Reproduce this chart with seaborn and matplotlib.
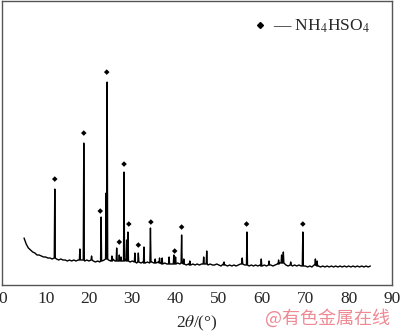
import numpy as np
import pandas as pd
import matplotlib
matplotlib.use('Agg')
import matplotlib.pyplot as plt
from matplotlib.lines import Line2D
import seaborn as sns

# --- DATA (intensity in arbitrary units) ---
# background of the pattern, one point every 0.5 degree from 5 to 85
base_theta = [5.0 + 0.5 * i for i in range(161)]
base_level = [
    47, 41, 37, 35, 33, 32, 30, 30, 29, 28, 28, 27, 27, 26, 27, 26, 25, 26, 25, 25,
    24, 25, 24, 25, 24, 25, 26, 25, 24, 25, 24, 26, 24, 23, 24, 23, 24, 25, 26, 25,
    24, 26, 24, 25, 24, 25, 24, 25, 24, 23, 24, 23, 22, 23, 22, 23, 22, 23, 22, 23,
    22, 22, 23, 22, 21, 22, 21, 22, 21, 22, 21, 22, 21, 23, 21, 20, 21, 20, 21, 20,
    21, 20, 21, 22, 21, 20, 21, 20, 20, 21, 20, 19, 21, 20, 19, 20, 19, 20, 19, 20,
    21, 22, 20, 21, 19, 20, 19, 20, 19, 20, 19, 20, 19, 21, 20, 19, 20, 21, 22, 23,
    22, 20, 19, 21, 19, 20, 19, 20, 19, 20, 19, 18, 19, 18, 20, 21, 19, 18, 19, 18,
    19, 18, 19, 18, 19, 18, 19, 18, 19, 18, 19, 18, 19, 18, 19, 18, 19, 18, 19, 18,
    19,
]

# diffraction peaks: position, top and local background
peak_pos = [12.1, 17.9, 18.8, 20.6, 22.8, 23.95, 24.2, 25.3, 26.4, 27.0, 27.4,
            28.1, 28.7, 29.0, 30.6, 31.4, 32.7, 34.2, 35.3, 36.3, 36.9, 38.5,
            39.6, 40.0, 41.4, 41.9, 43.3, 46.5, 47.2, 51.2, 55.4, 56.5, 59.8,
            61.6, 63.8, 64.5, 64.9, 66.6, 69.4, 72.3, 72.7]
peak_top = [96, 36, 142, 29, 68, 92, 203, 29, 37, 30, 28,
            113, 45, 53, 32, 32, 38, 57, 26, 27, 27, 28,
            30, 28, 50, 26, 24, 28, 34, 23, 27, 53, 26,
            24, 25, 30, 33, 23, 53, 26, 24]
peak_base = [27, 25, 25, 25, 24, 26, 26, 24, 24, 24, 24,
             24, 24, 24, 23, 23, 22, 23, 22, 22, 21, 21,
             21, 21, 22, 21, 20, 21, 21, 20, 21, 20, 19,
             20, 21, 22, 22, 20, 19, 20, 19]

# NH4HSO4 marks
mark_pos = [12.1, 18.8, 22.6, 24.1, 27.0, 28.1, 29.2, 31.4, 34.3, 39.8, 41.4, 56.4, 69.4]
mark_y = [106, 152, 74, 213, 43, 121, 61, 40, 63, 34, 58, 61, 61]

# --- BUILD THE PATTERN ---
half = 0.12
keep = [(t, v) for t, v in zip(base_theta, base_level)
        if all(abs(t - p) > half + 0.03 for p in peak_pos)]
pts = keep[:]
for p, top, b in zip(peak_pos, peak_top, peak_base):
    pts += [(p - half, b), (p, top), (p + half, b)]
pts.sort(key=lambda q: q[0])
xrd = pd.DataFrame(pts, columns=['two_theta', 'intensity'])
marks = pd.DataFrame({'two_theta': mark_pos, 'y': mark_y})

# --- STYLE ---
sns.set_style('white')
plt.rcParams['font.family'] = ['Liberation Serif', 'DejaVu Serif']
plt.rcParams['mathtext.fontset'] = 'stix'

fig = plt.figure(figsize=(4.0, 3.32), dpi=100)
ax = fig.add_axes([0.006, 0.1416, 0.974, 0.855])

sns.lineplot(data=xrd, x='two_theta', y='intensity', ax=ax, color='black',
             linewidth=1.0, estimator=None, sort=False)
sns.scatterplot(data=marks, x='two_theta', y='y', ax=ax, marker='D', s=8,
                color='black', edgecolor='none')

ax.set_xlim(0, 90)
ax.set_ylim(0, 284)
ax.set_xticks(range(0, 91, 10))
ax.set_yticks([])
ax.tick_params(axis='x', direction='in', length=5, width=1.0, color='#555555',
               labelsize=12.5, pad=4)
for s in ax.spines.values():
    s.set_color('#555555')
    s.set_linewidth(1.0)
ax.set_ylabel('')
ax.set_xlabel(r'2$\theta$/(°)', fontsize=12.5, labelpad=5)

handle = Line2D([], [], marker='D', color='black', linestyle='none', markersize=3)
ax.legend([handle], [r'— NH$_4$HSO$_4$'], loc='center right',
          bbox_to_anchor=(0.966, 0.91), frameon=False, fontsize=12.5,
          borderpad=0, handlelength=0.5, handletextpad=0.5)

fig.text(0.975, 0.042, '@有色金属在线', color='#ee8a94', fontsize=13,
         family=['Noto Sans CJK SC', 'DejaVu Sans'], ha='right', va='center')

fig.savefig('out.png', dpi=100)
